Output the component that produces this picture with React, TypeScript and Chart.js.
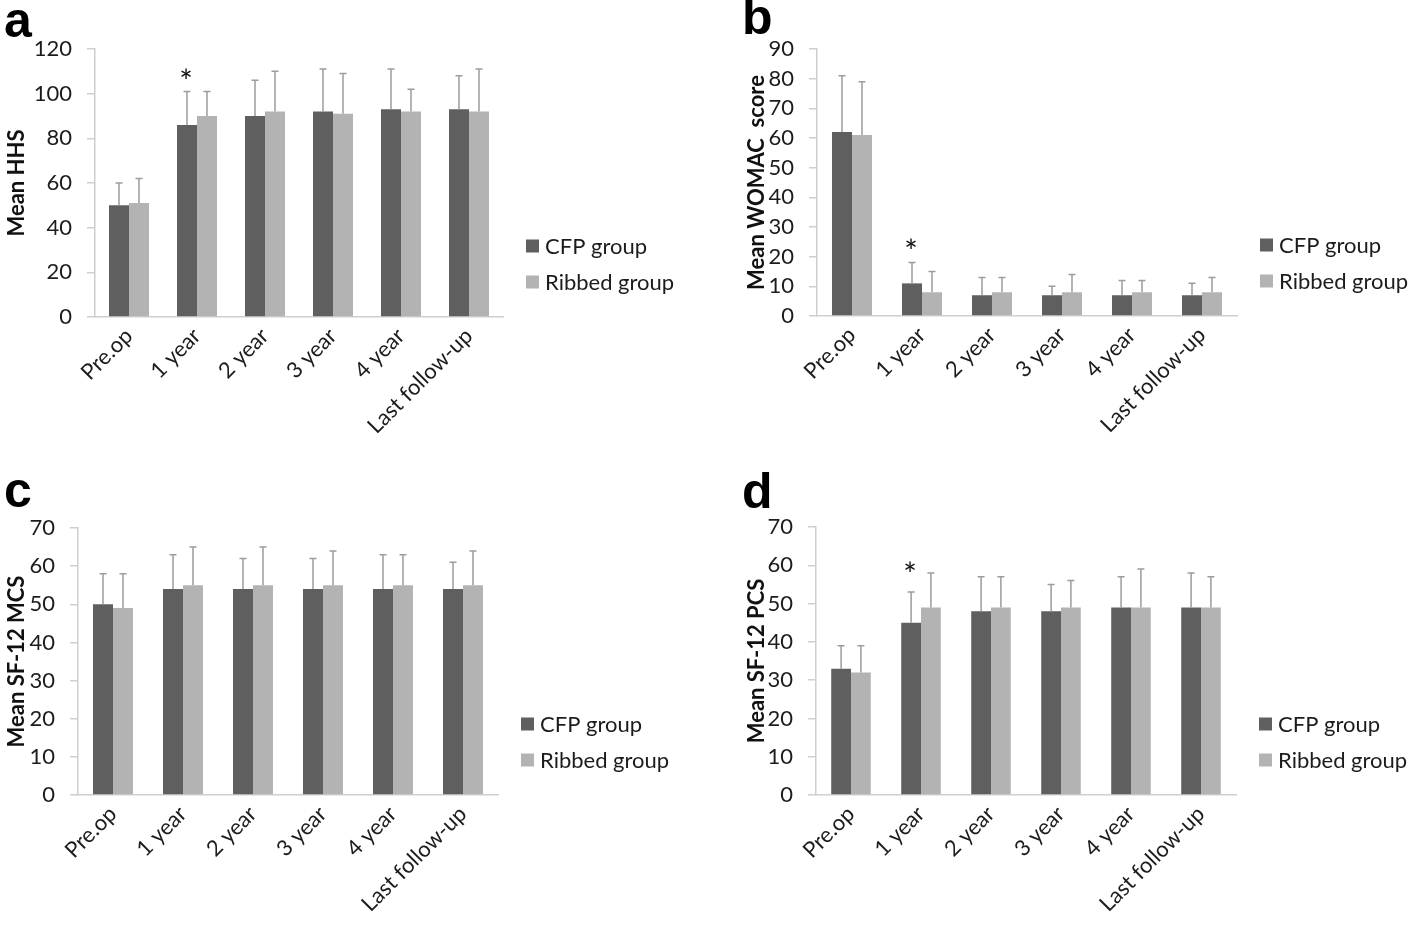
import React, { useEffect, useRef } from "react";
import { Chart, registerables } from "chart.js";

Chart.register(...registerables);

// ---------- data ----------
const categories = ["Pre.op", "1 year", "2 year", "3 year", "4 year", "Last follow-up"];
const seriesNames = ["CFP group", "Ribbed group"];

const hhsCFP = [50, 86, 90, 92, 93, 93];
const hhsCFPSd = [10, 15, 16, 19, 18, 15];
const hhsRibbed = [51, 90, 92, 91, 92, 92];
const hhsRibbedSd = [11, 11, 18, 18, 10, 19];
const hhsStars = [1];

const womacCFP = [62, 11, 7, 7, 7, 7];
const womacCFPSd = [19, 7, 6, 3, 5, 4];
const womacRibbed = [61, 8, 8, 8, 8, 8];
const womacRibbedSd = [18, 7, 5, 6, 4, 5];
const womacStars = [1];

const mcsCFP = [50, 54, 54, 54, 54, 54];
const mcsCFPSd = [8, 9, 8, 8, 9, 7];
const mcsRibbed = [49, 55, 55, 55, 55, 55];
const mcsRibbedSd = [9, 10, 10, 9, 8, 9];
const mcsStars: number[] = [];

const pcsCFP = [33, 45, 48, 48, 49, 49];
const pcsCFPSd = [6, 8, 9, 7, 8, 9];
const pcsRibbed = [32, 49, 49, 49, 49, 49];
const pcsRibbedSd = [7, 9, 8, 7, 10, 8];
const pcsStars = [1];

// ---------- styles ----------
const FONT = "Lato, 'Open Sans', sans-serif";
const CFP_COLOR = "#5f5f5f";
const RIB_COLOR = "#b3b3b3";
const AXIS_COLOR = "#cfcfcf";
const ERR_COLOR = "#9c9c9c";
const TEXT_COLOR = "#1c1c1c";

type Rect = { x: number; y: number; w: number; h: number };
type Area = { l: number; r: number; t: number; b: number };
type Panel = {
  letter: string;
  title: string;
  cfp: number[];
  cfpSd: number[];
  rib: number[];
  ribSd: number[];
  stars: number[];
  yMax: number;
  yStep: number;
  canvas: Rect;
  area: Area;
  letterPos: { x: number; y: number };
  catPct: number;
  starGap: number;
};

const panels: Panel[] = [
  {
    letter: "a", title: "Mean HHS",
    cfp: hhsCFP, cfpSd: hhsCFPSd, rib: hhsRibbed, ribSd: hhsRibbedSd, stars: hhsStars,
    yMax: 120, yStep: 20,
    canvas: { x: 0, y: 0, w: 740, h: 463 },
    area: { l: 95, r: 503, t: 49, b: 317 },
    letterPos: { x: 4, y: 37 }, catPct: 0.588, starGap: 16,
  },
  {
    letter: "b", title: "Mean WOMAC  score",
    cfp: womacCFP, cfpSd: womacCFPSd, rib: womacRibbed, ribSd: womacRibbedSd, stars: womacStars,
    yMax: 90, yStep: 10,
    canvas: { x: 740, y: 0, w: 678, h: 463 },
    area: { l: 817, r: 1237, t: 49, b: 316 },
    letterPos: { x: 742, y: 34 }, catPct: 0.571, starGap: 18,
  },
  {
    letter: "c", title: "Mean SF-12 MCS",
    cfp: mcsCFP, cfpSd: mcsCFPSd, rib: mcsRibbed, ribSd: mcsRibbedSd, stars: mcsStars,
    yMax: 70, yStep: 10,
    canvas: { x: 0, y: 463, w: 740, h: 463 },
    area: { l: 78, r: 498, t: 528, b: 795 },
    letterPos: { x: 4, y: 507 }, catPct: 0.571, starGap: 20,
  },
  {
    letter: "d", title: "Mean SF-12 PCS",
    cfp: pcsCFP, cfpSd: pcsCFPSd, rib: pcsRibbed, ribSd: pcsRibbedSd, stars: pcsStars,
    yMax: 70, yStep: 10,
    canvas: { x: 740, y: 463, w: 678, h: 463 },
    area: { l: 816, r: 1236, t: 527, b: 795 },
    letterPos: { x: 742, y: 508 }, catPct: 0.565, starGap: 24,
  },
];

function makeOverlay(p: Panel) {
  return {
    id: "overlay_" + p.letter,
    afterDatasetsDraw(chart: any) {
      const ctx = chart.ctx as CanvasRenderingContext2D;
      const yScale = chart.scales.y;
      const sets: [number[], number[]][] = [[p.cfp, p.cfpSd], [p.rib, p.ribSd]];
      ctx.save();
      ctx.strokeStyle = ERR_COLOR;
      ctx.lineWidth = 1.5;
      sets.forEach(([vals, sds], di) => {
        const meta = chart.getDatasetMeta(di);
        meta.data.forEach((bar: any, i: number) => {
          const top = yScale.getPixelForValue(vals[i] + sds[i]);
          ctx.beginPath();
          ctx.moveTo(bar.x, bar.y);
          ctx.lineTo(bar.x, top);
          ctx.moveTo(bar.x - 3.5, top);
          ctx.lineTo(bar.x + 3.5, top);
          ctx.stroke();
        });
      });
      // significance asterisks above CFP bars
      const meta0 = chart.getDatasetMeta(0);
      ctx.fillStyle = "#111";
      ctx.font = `32px ${FONT}`;
      ctx.textAlign = "center";
      ctx.textBaseline = "alphabetic";
      p.stars.forEach((i) => {
        const bar = meta0.data[i];
        const top = yScale.getPixelForValue(p.cfp[i] + p.cfpSd[i]);
        ctx.fillText("*", bar.x - 1, top - p.starGap + 18);
      });
      ctx.restore();
    },
    afterDraw(chart: any) {
      const ctx = chart.ctx as CanvasRenderingContext2D;
      const ca = chart.chartArea;
      ctx.save();
      // legend
      const colors = [CFP_COLOR, RIB_COLOR];
      const rows = [ca.bottom - 71, ca.bottom - 35];
      const lx = ca.right + 23;
      ctx.font = `22px ${FONT}`;
      ctx.textAlign = "left";
      ctx.textBaseline = "middle";
      seriesNames.forEach((name, k) => {
        ctx.fillStyle = colors[k];
        ctx.fillRect(lx, rows[k] - 6.5, 13, 13);
        ctx.fillStyle = TEXT_COLOR;
        ctx.fillText(name, lx + 19, rows[k] + 1);
      });
      // panel letter
      ctx.fillStyle = "#000";
      ctx.font = "bold 50px 'Liberation Sans', Arial, sans-serif";
      ctx.textBaseline = "alphabetic";
      ctx.fillText(p.letter, p.letterPos.x - p.canvas.x, p.letterPos.y - p.canvas.y);
      ctx.restore();
    },
  };
}

function PanelChart({ p }: { p: Panel }) {
  const ref = useRef<HTMLCanvasElement | null>(null);
  useEffect(() => {
    if (!ref.current) return;
    const c = p.canvas;
    const a = p.area;
    const chart = new Chart(ref.current, {
      type: "bar",
      data: {
        labels: categories,
        datasets: [
          { label: seriesNames[0], data: p.cfp, backgroundColor: CFP_COLOR, categoryPercentage: p.catPct, barPercentage: 1 },
          { label: seriesNames[1], data: p.rib, backgroundColor: RIB_COLOR, categoryPercentage: p.catPct, barPercentage: 1 },
        ],
      },
      options: {
        responsive: false,
        animation: false,
        devicePixelRatio: 1,
        layout: {
          padding: { left: 0, top: a.t - c.y, right: c.x + c.w - a.r, bottom: 0 },
        },
        plugins: { legend: { display: false }, tooltip: { enabled: false } },
        scales: {
          x: {
            grid: { display: false, drawTicks: false },
            border: { color: AXIS_COLOR, width: 1.5 },
            ticks: {
              font: { family: FONT, size: 22 },
              color: TEXT_COLOR,
              minRotation: 45,
              maxRotation: 45,
              autoSkip: false,
              padding: 6,
            },
            afterFit: (s: any) => { s.height = c.y + c.h - a.b; },
          },
          y: {
            min: 0,
            max: p.yMax,
            ticks: { stepSize: p.yStep, font: { family: FONT, size: 22 }, color: TEXT_COLOR, padding: 15 },
            grid: { drawOnChartArea: false, drawTicks: true, tickLength: 8, color: AXIS_COLOR, lineWidth: 1.5 },
            border: { color: AXIS_COLOR, width: 1.5 },
            title: {
              display: true,
              text: p.title,
              font: { family: FONT, size: 22, weight: "bold" },
              color: "#111",
              padding: { top: 4, bottom: 4 },
            },
            afterFit: (s: any) => { s.width = a.l - c.x; },
          },
        },
      } as any,
      plugins: [makeOverlay(p)],
    });
    return () => chart.destroy();
  }, [p]);
  return (
    <canvas
      ref={ref}
      width={p.canvas.w}
      height={p.canvas.h}
      style={{ position: "absolute", left: p.canvas.x, top: p.canvas.y, width: p.canvas.w, height: p.canvas.h }}
    />
  );
}

export default function App() {
  return (
    <div style={{ position: "absolute", left: 0, top: 0, width: 1418, height: 926, background: "#fff", overflow: "hidden" }}>
      {panels.map((p) => (
        <PanelChart key={p.letter} p={p} />
      ))}
    </div>
  );
}
